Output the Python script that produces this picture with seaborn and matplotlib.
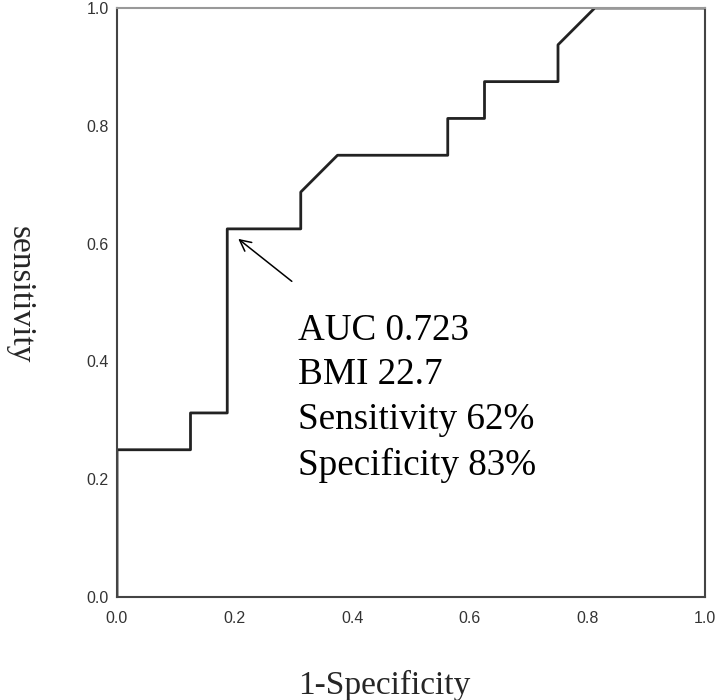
import numpy as np
import pandas as pd
import matplotlib
matplotlib.use("Agg")
import matplotlib.pyplot as plt
import seaborn as sns

sns.set_theme(style="white")

# ROC curve points
fpr = [0.0, 0.0, 0.125, 0.125, 0.1875, 0.1875, 0.3125, 0.3125, 0.375,
       0.5625, 0.5625, 0.625, 0.625, 0.75, 0.75, 0.8125, 1.0]
tpr = [0.0, 0.25, 0.25, 0.3125, 0.3125, 0.625, 0.625, 0.6875, 0.75,
       0.75, 0.8125, 0.8125, 0.875, 0.875, 0.9375, 1.0, 1.0]

info_lines = ["AUC 0.723", "BMI 22.7", "Sensitivity 62%", "Specificity 83%"]
cutoff = (0.1875, 0.625)

df = pd.DataFrame({"fpr": fpr, "tpr": tpr})

fig = plt.figure(figsize=(7.16, 7.0), dpi=100)
ax = fig.add_axes([117 / 716, 1 - 597 / 700, 588 / 716, 589 / 700])

sns.lineplot(data=df, x="fpr", y="tpr", sort=False, estimator=None,
             color="#222222", linewidth=2.0, ax=ax)

ax.set_xlim(0, 1)
ax.set_ylim(0, 1)
ax.set_xticks(np.arange(0, 1.01, 0.2))
ax.set_yticks(np.arange(0, 1.01, 0.2))
ax.set_xticklabels([f"{v:.1f}" for v in np.arange(0, 1.01, 0.2)])
ax.set_yticklabels([f"{v:.1f}" for v in np.arange(0, 1.01, 0.2)])
ax.tick_params(axis="both", length=0, labelsize=11.5, labelcolor="#333333")
ax.tick_params(axis="x", pad=10)
ax.tick_params(axis="y", pad=6)
for lab in ax.get_xticklabels() + ax.get_yticklabels():
    lab.set_fontfamily("Liberation Sans")
ax.set_xlabel("")
ax.set_ylabel("")
for side, sp in ax.spines.items():
    sp.set_visible(True)
    sp.set_linewidth(1.5)
    sp.set_color("#444444")
ax.spines["top"].set_color("#999999")

ax.annotate("", xy=(cutoff[0] + 0.015, cutoff[1] - 0.014), xytext=(0.301, 0.533),
            arrowprops=dict(arrowstyle="->", color="black", lw=1.1,
                            mutation_scale=20))

ax.text(0.308, 0.482, "\n".join(info_lines), fontsize=26.7,
        family="Liberation Serif", va="top", ha="left", color="black",
        linespacing=1.39)

fig.text(384 / 716, 1 - 685 / 700, "1-Specificity", fontsize=24,
         family="Liberation Serif", ha="center", va="center")
fig.text(20 / 716, 1 - 295 / 700, "sensitivity", fontsize=24,
         family="Liberation Serif", ha="center", va="center", rotation=270)

fig.savefig("out.png", dpi=100, facecolor="white")
